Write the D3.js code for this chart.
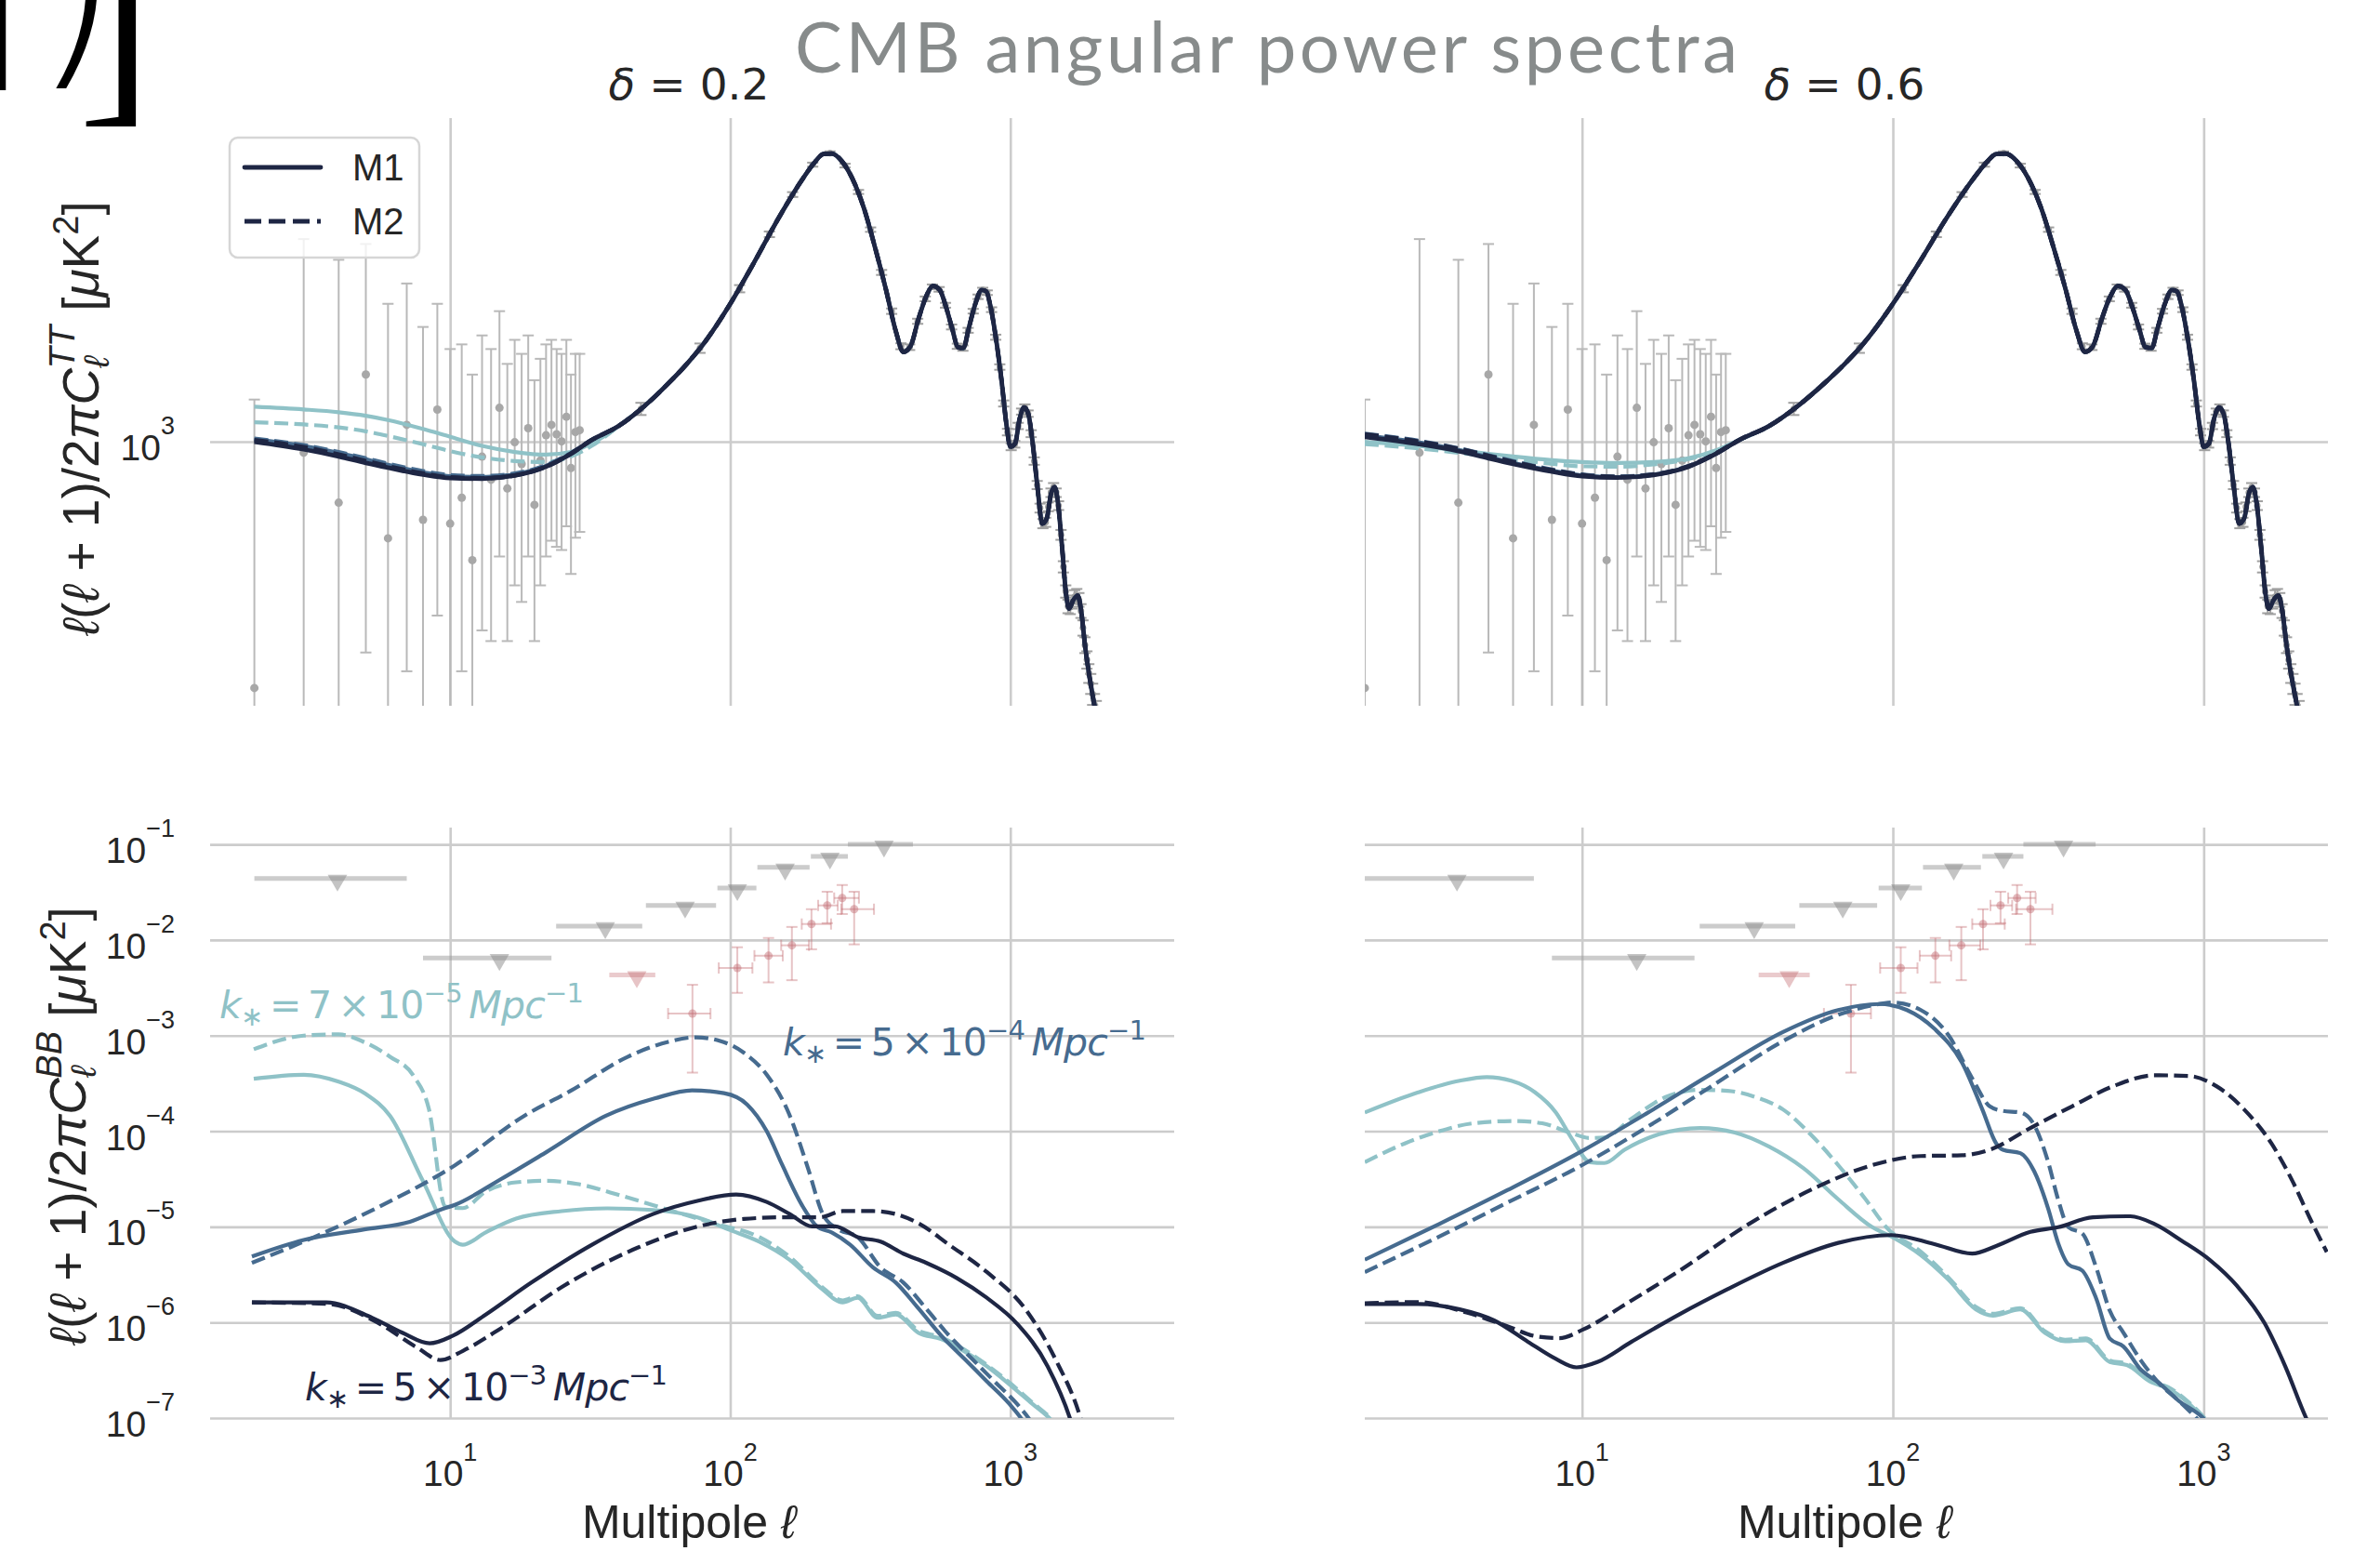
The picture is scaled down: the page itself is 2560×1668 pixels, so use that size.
<!DOCTYPE html>
<html><head><meta charset="utf-8">
<script src="https://cdn.jsdelivr.net/npm/d3@7"></script>
<style>body{margin:0;background:#fff}svg{display:block}</style>
</head><body>
<svg id="c" width="2560" height="1668"></svg>
<script>
// ---------------- DATA ----------------
const ellTicks = [10, 100, 1000];
const ttTicks = [1000];
const bbTicks = [1e-7, 1e-6, 1e-5, 1e-4, 1e-3, 1e-2, 1e-1];
const ellTickExp = ["1", "2", "3"];
const bbTickExp = ["\u22127","\u22126","\u22125","\u22124","\u22123","\u22122","\u22121"];
const legendLabels = ["M1", "M2"];
const panelTitles = ["\u03b4 = 0.2", "\u03b4 = 0.6"];

// TT theory (common part, l >= 40)
const ttBase = [[40,1100],[50,1250],[60,1420],[70,1600],[80,1800],[100,2300],[120,2900],[150,3900],[180,4850],[200,5400],[215,5680],[230,5700],[250,5450],[280,4700],[300,4100],[330,3200],[360,2500],[390,1950],[415,1720],[440,1780],[470,2100],[500,2400],[530,2560],[560,2500],[590,2250],[620,1980],[650,1770],[680,1760],[710,1980],[750,2300],[790,2500],[820,2480],[850,2260],[890,1850],[930,1450],[970,1100],[1000,970],[1040,990],[1080,1150],[1120,1230],[1160,1180],[1200,1000],[1250,760],[1300,610],[1350,630],[1400,735],[1440,760],[1480,690],[1530,530],[1580,400],[1620,365],[1680,385],[1740,395],[1790,360],[1850,290],[1920,240],[2000,202],[2100,172],[2300,128],[2500,95]];
// TT low-l parts, delta = 0.2
const ttNavySolidL = [[2,1000],[3,955],[4,915],[5,880],[6,855],[8,820],[10,803],[13,800],[17,815],[22,860],[27,930],[32,1010]];
const ttNavyDashL  = [[2,1010],[3,968],[4,925],[5,890],[6,862],[8,826],[10,806],[13,802],[17,816],[22,860],[27,930],[32,1010]];
const ttMidSolidL  = [[2,1015],[3,975],[4,935],[5,900],[6,870],[8,832],[10,812],[13,808],[17,822],[22,865],[27,932],[32,1010]];
const ttMidDashL   = [[2,1020],[3,980],[4,940],[5,905],[6,876],[8,838],[10,818],[13,813],[17,826],[22,868],[27,935],[32,1012]];
const ttTealSolidL = [[2,1235],[3,1215],[4,1195],[5,1170],[6,1140],[8,1080],[10,1030],[13,975],[17,940],[22,925],[27,940],[32,990],[36,1040]];
const ttTealDashL  = [[2,1125],[3,1110],[4,1090],[5,1065],[6,1035],[8,985],[10,945],[13,910],[17,890],[22,885],[27,915],[32,975],[36,1035]];
// TT low-l parts, delta = 0.6
const ttNavySolidR = [[2,1030],[3,985],[4,945],[5,905],[6,875],[8,835],[10,812],[13,805],[17,818],[22,860],[27,930],[32,1010]];
const ttNavyDashR  = [[2,1045],[3,1000],[4,958],[5,918],[6,885],[8,842],[10,818],[13,808],[17,820],[22,862],[27,932],[32,1010]];
const ttMidSolidR  = [[2,1040],[3,995],[4,952],[5,912],[6,880],[8,840],[10,816],[13,808],[17,820],[22,862],[27,931],[32,1010]];
const ttMidDashR   = [[2,1050],[3,1005],[4,962],[5,922],[6,890],[8,846],[10,821],[13,811],[17,822],[22,864],[27,933],[32,1011]];
const ttTealSolidR = [[2,1000],[3,975],[4,950],[5,930],[6,915],[8,895],[10,885],[13,880],[17,885],[22,905],[27,950],[32,1010]];
const ttTealDashR  = [[2,985],[3,960],[4,935],[5,915],[6,898],[8,875],[10,862],[13,860],[17,872],[22,900],[27,948],[32,1010]];

// Planck TT low-l points
const ttLowEll = [2,3,4,5,6,7,8,9,10,11,12,13,14,15,16,17,18,19,20,21,22,23,24,25,26,27,28,29];
const ttLowVal = [226,936,692,1501,558,1107,624,1214,610,713,489,914,795,1227,754,997,874,1085,683,893,1040,1107,1046,1002,1163,853,1060,1072];
const ttLowHi  = [1290,3400,3000,3300,2300,2600,2000,2300,1750,1800,1500,1900,1750,2200,1600,1850,1700,1900,1450,1650,1800,1850,1750,1700,1850,1500,1700,1700];
const ttLowLo  = [150,150,150,280,150,250,150,350,200,250,150,320,300,500,300,420,380,500,300,420,500,550,530,520,600,450,560,580];
// Planck TT binned points
const ttBinEll = [48,78,108,138,167,197,227,257,287,317,347,377,407,437,467,497,527,557,587,617,647,677,707,737,767,797,827,857,887,917,947,977,1007,1037,1067,1097,1127,1157,1187,1217,1247,1277,1307,1337,1367,1397,1427,1457,1487,1517,1547,1577,1607,1637,1667,1697,1727,1757,1787,1817,1847,1877,1907,1937,1967,1997,2027,2057,2087];
const ttBinVal = [1220,1760,2520,3500,4450,5330,5710,5300,4520,3600,2780,2200,1780,1770,2070,2370,2550,2510,2280,2000,1780,1760,1960,2200,2400,2500,2460,2220,1880,1570,1260,1060,970,985,1100,1200,1230,1185,1050,890,770,670,610,615,675,735,760,735,680,570,470,405,370,368,380,392,395,385,360,325,293,268,247,232,218,204,195,186,178];
const ttBinErr = [45,50,55,60,65,65,65,60,55,48,42,36,32,30,32,34,35,35,33,30,28,28,29,31,33,34,34,32,29,26,23,21,20,20,21,22,23,23,22,20,19,18,17,17,18,19,19,19,18,17,16,15,15,15,15,16,16,16,15,15,14,14,14,14,14,14,14,14,14];

// BB curves, delta = 0.2
const bbTealSolidL = [[1.99,3.54e-4],[3.0,3.9e-4],[4.0,3.3e-4],[5.0,2.45e-4],[6.1,1.45e-4],[8.0,3.0e-5],[10.4,7.0e-6],[11.1,6.5e-6],[13.4,8.75e-6],[17.2,1.22e-5],[25,1.46e-5],[36.4,1.56e-5],[53,1.5e-5],[76.9,1.25e-5],[98.9,9.35e-6],[127,7.0e-6],[163,4.52e-6],[209,2.34e-6],[252,1.62e-6],[285,1.81e-6],[336,1.12e-6],[390,1.21e-6],[470,7.8e-7],[566,6.7e-7],[684,5.0e-7],[824,3.48e-7],[993,2.25e-7],[1200,1.4e-7],[1393,9.7e-8],[1585,6.3e-8]];
const bbTealDashL  = [[1.99,7.2e-4],[3.0,1.0e-3],[4.0,1.03e-3],[5.0,8.4e-4],[6.1,6.0e-4],[7.4,3.8e-4],[8.4,1.7e-4],[9.6,1.63e-5],[11.1,1.57e-5],[13.4,2.34e-5],[17.2,2.92e-5],[22.1,3.03e-5],[28.4,2.81e-5],[41.2,2.1e-5],[60,1.51e-5],[87,1.09e-5],[127,7.8e-6],[163,4.86e-6],[209,2.45e-6],[252,1.7e-6],[285,1.88e-6],[336,1.17e-6],[390,1.26e-6],[470,8.2e-7],[566,7.0e-7],[684,5.2e-7],[824,3.6e-7],[993,2.35e-7],[1200,1.45e-7],[1393,1.0e-7],[1585,6.5e-8]];
const bbMidSolidL  = [[1.96,4.9e-6],[3.0,7.3e-6],[4.94,9.4e-6],[7.18,1.13e-5],[9.23,1.51e-5],[10.4,1.7e-5],[15.2,3.16e-5],[22.1,6.07e-5],[36,1.45e-4],[53.7,2.2e-4],[73,2.68e-4],[95,2.5e-4],[115,1.9e-4],[135,1.0e-4],[153,4.5e-5],[180,1.7e-5],[204,1.01e-5],[231,8.7e-6],[268,6.5e-6],[323,3.77e-6],[390,2.61e-6],[470,1.4e-6],[566,7.3e-7],[684,4.19e-7],[824,2.42e-7],[993,1.4e-7],[1099,9.7e-8],[1200,6.3e-8]];
const bbMidDashL   = [[1.96,4.2e-6],[3.0,7.0e-6],[5.6,1.63e-5],[10.4,4.4e-5],[18.4,1.45e-4],[26.9,2.64e-4],[43,6.0e-4],[60,8.6e-4],[75,9.6e-4],[92,8.8e-4],[112,6.6e-4],[135,3.9e-4],[162.5,1.5e-4],[189,4.2e-5],[214,1.36e-5],[243,9.4e-6],[285,7.8e-6],[344,3.77e-6],[415,2.61e-6],[500,1.4e-6],[604,7.3e-7],[728,4.19e-7],[877,2.42e-7],[1057,1.4e-7],[1170,9.7e-8],[1280,6.3e-8]];
const bbNavySolidL = [[1.96,1.62e-6],[3.61,1.62e-6],[5.26,1.12e-6],[6.75,7.8e-7],[8.45,6.04e-7],[10.2,7.24e-7],[13.4,1.21e-6],[19.5,2.61e-6],[32.1,6.5e-6],[53,1.36e-5],[76.9,1.88e-5],[105,2.18e-5],[135,1.82e-5],[163,1.36e-5],[196,1.01e-5],[237,1.01e-5],[285,7.8e-6],[344,7.0e-6],[415,5.24e-6],[500,4.21e-6],[643,2.92e-6],[824,1.81e-6],[1057,9.7e-7],[1358,3.49e-7],[1637,9.7e-8],[1750,5e-8]];
const bbNavyDashL  = [[1.96,1.62e-6],[3.61,1.57e-6],[5.6,9.7e-7],[7.64,5.42e-7],[9.23,4.04e-7],[11.1,5.04e-7],[15.2,8.7e-7],[25,2.34e-6],[46.7,6.05e-6],[76.9,1.01e-5],[112,1.21e-5],[163,1.26e-5],[209,1.26e-5],[252,1.46e-5],[323,1.46e-5],[390,1.36e-5],[470,1.09e-5],[604,6.5e-6],[824,3.37e-6],[1127,1.4e-6],[1445,4.19e-7],[1786,9.7e-8],[1900,5e-8]];
// BB curves, delta = 0.6
const bbTealSolidR = [[2,1.57e-4],[2.97,2.55e-4],[4.04,3.37e-4],[4.94,3.68e-4],[5.92,3.37e-4],[7.06,2.55e-4],[8.24,1.57e-4],[9.35,8.0e-5],[10.6,4.75e-5],[11.8,4.65e-5],[13.7,6.4e-5],[17.7,9.3e-5],[24,1.08e-4],[31,9.7e-5],[40,6.9e-5],[51.6,4.1e-5],[66.7,1.94e-5],[85.9,9.9e-6],[99,7.9e-6],[123,5.06e-6],[151,2.79e-6],[185,1.37e-6],[210,1.18e-6],[257,1.37e-6],[308,7.8e-7],[358,6.35e-7],[418,6.5e-7],[499,3.85e-7],[566,3.58e-7],[678,2.37e-7],[769,2.04e-7],[897,1.41e-7],[993,1.01e-7],[1120,6.3e-8]];
const bbTealDashR  = [[2,4.75e-5],[2.69,7.45e-5],[3.47,1.0e-4],[4.47,1.21e-4],[6.07,1.28e-4],[7.45,1.21e-4],[9.12,9.7e-5],[10.6,8.5e-5],[11.8,8.6e-5],[14.4,1.35e-4],[18.6,2.28e-4],[24,2.71e-4],[29.4,2.65e-4],[36.1,2.28e-4],[44.3,1.69e-4],[54.3,9.3e-5],[66.7,4.42e-5],[81.7,1.94e-5],[95.3,9.9e-6],[123,5.5e-6],[151,2.95e-6],[185,1.45e-6],[210,1.23e-6],[257,1.41e-6],[308,8.1e-7],[358,6.6e-7],[418,6.8e-7],[499,4.0e-7],[566,3.7e-7],[678,2.45e-7],[769,2.1e-7],[897,1.45e-7],[993,1.05e-7],[1120,6.3e-8]];
const bbMidSolidR  = [[2,4.53e-6],[3.47,1.07e-5],[5.77,2.43e-5],[10,6.2e-5],[16,1.51e-4],[26.6,4.14e-4],[44.3,1.09e-3],[66.7,1.85e-3],[90.4,2.14e-3],[111,1.85e-3],[136,1.18e-3],[167,5.2e-4],[194,1.69e-4],[215,7.45e-5],[226,6.4e-5],[257,5.9e-5],[285,3.8e-5],[316,1.55e-5],[340,6.8e-6],[367,4.05e-6],[407,3.48e-6],[451,1.78e-6],[499,6.75e-7],[552,5.6e-7],[628,3.2e-7],[713,2.37e-7],[832,1.51e-7],[993,1.01e-7],[1120,6.3e-8]];
const bbMidDashR   = [[2,3.36e-6],[3.47,7.9e-6],[5.77,1.8e-5],[10,4.42e-5],[16,1.08e-4],[26.6,3.08e-4],[44.3,8.75e-4],[66.7,1.65e-3],[85.9,2.07e-3],[100,2.22e-3],[123,1.85e-3],[151,1.01e-3],[180,3.57e-4],[205,1.82e-4],[226,1.63e-4],[257,1.57e-4],[285,1.16e-4],[316,4.75e-5],[340,1.94e-5],[367,9.9e-6],[407,8.5e-6],[451,3.75e-6],[499,1.32e-6],[552,7.8e-7],[628,4.0e-7],[713,2.37e-7],[832,1.51e-7],[944,1.01e-7],[1070,6.3e-8]];
const bbNavySolidR = [[2,1.56e-6],[2.97,1.56e-6],[4.04,1.37e-6],[5.21,1.05e-6],[6.71,6.25e-7],[8.24,4.15e-7],[9.6,3.39e-7],[11.2,3.85e-7],[14.4,6.25e-7],[20.6,1.22e-6],[29.4,2.23e-6],[44.3,4.2e-6],[66.7,6.8e-6],[99,8.2e-6],[136,6.6e-6],[180,5.25e-6],[215,6.3e-6],[277,8.85e-6],[340,9.9e-6],[440,1.26e-5],[581,1.29e-5],[695,1.07e-5],[853,7.1e-6],[1045,4.52e-6],[1282,2.4e-6],[1570,9.8e-7],[1832,3.44e-7],[2133,1.01e-7],[2290,6.3e-8]];
const bbNavyDashR  = [[2,1.59e-6],[2.97,1.63e-6],[4.25,1.27e-6],[5.77,9.1e-7],[7.06,7.2e-7],[8.45,6.85e-7],[10.1,8.45e-7],[13.7,1.53e-6],[20.6,3.48e-6],[34.4,1.07e-5],[57.1,2.62e-5],[85.9,4.42e-5],[123,5.5e-5],[167,5.6e-5],[205,6.4e-5],[277,1.08e-4],[377,1.82e-4],[512,2.96e-4],[695,3.85e-4],[897,3.78e-4],[1099,2.96e-4],[1349,1.69e-4],[1652,7.45e-5],[1928,3.03e-5],[2193,1.24e-5],[2489,5.45e-6]];

// BB data: upper limits (grey), BICEP-like (red)
const bbUpEll = [3.96, 15, 35.8, 69, 106, 157, 227, 354];
const bbUpLo  = [2.0, 8, 23.9, 50, 90, 125, 194, 263];
const bbUpHi  = [7.0, 23, 48.5, 89, 124, 192, 263, 449];
const bbUpVal = [0.044, 0.0065, 0.014, 0.023, 0.035, 0.0575, 0.075, 0.10];
const pkUpEll = [46.4], pkUpLo = [37], pkUpHi = [54], pkUpVal = [0.0043];
const pkEll   = [73.3, 106, 137, 166, 195, 222, 251, 277];
const pkEllLo = [60, 91, 122, 152, 180, 206, 235, 249];
const pkEllHi = [85, 120, 154, 191, 229, 242, 288, 326];
const pkVal   = [0.0017, 0.0051, 0.00685, 0.0088, 0.0147, 0.023, 0.0275, 0.021];
const pkLo    = [0.00041, 0.0028, 0.0036, 0.0038, 0.008, 0.015, 0.0187, 0.009];
const pkHi    = [0.0034, 0.0084, 0.0105, 0.0137, 0.021, 0.032, 0.0376, 0.032];

// ---------------- STYLE / LAYOUT ----------------
const C_NAVY = "#1e2644", C_MID = "#466b8f", C_TEAL = "#8fc2c7";
const GRID = "#cccccc", TXT = "#262626";
const DASH = "15,6.5";
const SANS = "Liberation Sans, Arial, sans-serif";
const MATH = "DejaVu Sans, sans-serif";
const svg = d3.select("#c");

const xL = d3.scaleLog().domain([1.39, 3846]).range([226, 1263]);
const xR = d3.scaleLog().domain([2, 2510]).range([1468, 2504]);
const yT = d3.scaleLog().domain([203, 7060]).range([759, 127]);
const yB = d3.scaleLog().domain([1e-7, 0.15]).range([1525, 890]);

const panels = [
  {id:"tl", x:xL, y:yT, yt:ttTicks, tt:true},
  {id:"tr", x:xR, y:yT, yt:ttTicks, tt:true},
  {id:"bl", x:xL, y:yB, yt:bbTicks, tt:false},
  {id:"br", x:xR, y:yB, yt:bbTicks, tt:false}
];

const defs = svg.append("defs");
panels.forEach(p => {
  const [x0,x1] = p.x.range(), [y1,y0] = p.y.range();
  defs.append("clipPath").attr("id","clip-"+p.id).append("rect")
    .attr("x",x0).attr("y",y0).attr("width",x1-x0).attr("height",y1-y0);
});

// grids
panels.forEach(p => {
  const [x0,x1] = p.x.range(), [y1,y0] = p.y.range();
  const g = svg.append("g");
  const gx = g.append("g").attr("transform",`translate(0,${y1})`)
    .call(d3.axisBottom(p.x).tickValues(ellTicks).tickSize(-(y1-y0)).tickFormat(""));
  const gy = g.append("g").attr("transform",`translate(${x0},0)`)
    .call(d3.axisLeft(p.y).tickValues(p.yt).tickSize(-(x1-x0)).tickFormat(""));
  [gx,gy].forEach(a => { a.select(".domain").remove(); a.selectAll("line").attr("stroke",GRID).attr("stroke-width",2.6); });
});

// tick labels
function supText(sel, base, exp, baseSize, supSize, supDy){
  sel.append("tspan").attr("font-size",baseSize).text(base);
  sel.append("tspan").attr("font-size",supSize).attr("dy",supDy).text(exp);
}
panels.filter(p=>!p.tt).forEach(p => {
  ellTicks.forEach((t,i) => {
    const tx = svg.append("text").attr("x",p.x(t)).attr("y",p.y.range()[0]+73)
      .attr("text-anchor","middle").attr("fill",TXT).attr("font-family",SANS);
    supText(tx,"10",ellTickExp[i],39,27,-27);
  });
});
const pTL = panels[0], pBL = panels[2];
ttTicks.forEach(t => {
  const tx = svg.append("text").attr("x",188).attr("y",pTL.y(t)+20).attr("text-anchor","end")
    .attr("fill",TXT).attr("font-family",SANS);
  supText(tx,"10","3",39,27,-28);
});
bbTicks.forEach((t,i) => {
  const tx = svg.append("text").attr("x",188).attr("y",pBL.y(t)+20).attr("text-anchor","end")
    .attr("fill",TXT).attr("font-family",SANS);
  supText(tx,"10",bbTickExp[i],39,27,-28);
});

// ---------- TT data points ----------
function drawTTData(p){
  const g = svg.append("g").attr("clip-path",`url(#clip-${p.id})`);
  const cap = 6;
  ttLowEll.forEach((l,i) => {
    const x = p.x(l);
    g.append("line").attr("x1",x).attr("x2",x).attr("y1",p.y(ttLowLo[i])).attr("y2",p.y(ttLowHi[i]))
      .attr("stroke","#b9b9b9").attr("stroke-width",2);
    [ttLowLo[i],ttLowHi[i]].forEach(v => g.append("line").attr("x1",x-cap).attr("x2",x+cap)
      .attr("y1",p.y(v)).attr("y2",p.y(v)).attr("stroke","#b9b9b9").attr("stroke-width",2));
    g.append("circle").attr("cx",x).attr("cy",p.y(ttLowVal[i])).attr("r",4.5).attr("fill","#a8a8a8");
  });
  ttBinEll.forEach((l,i) => {
    const x = p.x(l), lo = ttBinVal[i]-ttBinErr[i], hi = ttBinVal[i]+ttBinErr[i];
    g.append("line").attr("x1",x).attr("x2",x).attr("y1",p.y(lo)).attr("y2",p.y(hi))
      .attr("stroke","#a0a0a0").attr("stroke-width",2);
    [lo,hi].forEach(v => g.append("line").attr("x1",x-cap).attr("x2",x+cap)
      .attr("y1",p.y(v)).attr("y2",p.y(v)).attr("stroke","#a0a0a0").attr("stroke-width",2));
    g.append("circle").attr("cx",x).attr("cy",p.y(ttBinVal[i])).attr("r",3.5).attr("fill","#999");
  });
}
drawTTData(panels[0]); drawTTData(panels[1]);

// ---------- BB data ----------
function drawBBData(p){
  const g = svg.append("g").attr("clip-path",`url(#clip-${p.id})`);
  const tri = d3.symbol().type(d3.symbolTriangle).size(190);
  bbUpEll.forEach((l,i) => {
    g.append("line").attr("x1",p.x(bbUpLo[i])).attr("x2",p.x(bbUpHi[i]))
      .attr("y1",p.y(bbUpVal[i])).attr("y2",p.y(bbUpVal[i]))
      .attr("stroke","#9a9a9a").attr("stroke-opacity",0.5).attr("stroke-width",5);
    g.append("path").attr("d",tri()).attr("fill","#8a8a8a").attr("fill-opacity",0.5)
      .attr("transform",`translate(${p.x(l)},${p.y(bbUpVal[i])+2}) rotate(180)`);
  });
  const pc = "#c26b70";
  pkUpEll.forEach((l,i) => {
    g.append("line").attr("x1",p.x(pkUpLo[i])).attr("x2",p.x(pkUpHi[i]))
      .attr("y1",p.y(pkUpVal[i])).attr("y2",p.y(pkUpVal[i]))
      .attr("stroke",pc).attr("stroke-opacity",0.35).attr("stroke-width",5);
    g.append("path").attr("d",tri()).attr("fill",pc).attr("fill-opacity",0.4)
      .attr("transform",`translate(${p.x(l)},${p.y(pkUpVal[i])+2}) rotate(180)`);
  });
  pkEll.forEach((l,i) => {
    const x = p.x(l), y = p.y(pkVal[i]);
    const st = s => s.attr("stroke",pc).attr("stroke-opacity",0.4).attr("stroke-width",2);
    st(g.append("line").attr("x1",x).attr("x2",x).attr("y1",p.y(pkLo[i])).attr("y2",p.y(pkHi[i])));
    st(g.append("line").attr("x1",p.x(pkEllLo[i])).attr("x2",p.x(pkEllHi[i])).attr("y1",y).attr("y2",y));
    [pkLo[i],pkHi[i]].forEach(v => st(g.append("line").attr("x1",x-6).attr("x2",x+6).attr("y1",p.y(v)).attr("y2",p.y(v))));
    [pkEllLo[i],pkEllHi[i]].forEach(v => st(g.append("line").attr("x1",p.x(v)).attr("x2",p.x(v)).attr("y1",y-6).attr("y2",y+6)));
    g.append("circle").attr("cx",x).attr("cy",y).attr("r",4.5).attr("fill",pc).attr("fill-opacity",0.45);
  });
}
drawBBData(panels[2]); drawBBData(panels[3]);

// ---------- curves ----------
function curve(p, data, color, dashed, width){
  const line = d3.line().x(d=>p.x(d[0])).y(d=>p.y(d[1])).curve(d3.curveMonotoneX);
  svg.append("path").attr("clip-path",`url(#clip-${p.id})`).datum(data).attr("d",line)
    .attr("fill","none").attr("stroke",color).attr("stroke-width",width||4.2)
    .attr("stroke-dasharray",dashed?DASH:null).attr("stroke-linejoin","round");
}
[[panels[0],[ttTealSolidL,ttTealDashL,ttMidSolidL,ttMidDashL,ttNavySolidL,ttNavyDashL]],
 [panels[1],[ttTealSolidR,ttTealDashR,ttMidSolidR,ttMidDashR,ttNavySolidR,ttNavyDashR]]].forEach(([p,arr]) => {
  const cols = [C_TEAL,C_TEAL,C_MID,C_MID,C_NAVY,C_NAVY];
  arr.forEach((low,i) => curve(p, low.concat(ttBase.filter(d=>d[0]>low[low.length-1][0])), cols[i], i%2===1, i>=4?4.8:4.2));
});
[[panels[2],[bbTealSolidL,bbTealDashL,bbMidSolidL,bbMidDashL,bbNavySolidL,bbNavyDashL]],
 [panels[3],[bbTealSolidR,bbTealDashR,bbMidSolidR,bbMidDashR,bbNavySolidR,bbNavyDashR]]].forEach(([p,arr]) => {
  const cols = [C_TEAL,C_TEAL,C_MID,C_MID,C_NAVY,C_NAVY];
  arr.forEach((d,i) => curve(p, d, cols[i], i%2===1, 4.2));
});

// ---------- legend ----------
svg.append("rect").attr("x",247).attr("y",148).attr("width",204).attr("height",129).attr("rx",9)
  .attr("fill","#fff").attr("fill-opacity",0.8).attr("stroke","#d6d6d6").attr("stroke-width",2.5);
[180,238].forEach((yy,i) => {
  svg.append("line").attr("x1",263).attr("x2",345).attr("y1",yy).attr("y2",yy)
    .attr("stroke",C_NAVY).attr("stroke-width",4.8).attr("stroke-linecap",i?"butt":"round")
    .attr("stroke-dasharray",i?"18,8":null);
  svg.append("text").attr("x",379).attr("y",yy+14).attr("font-size",40).attr("fill",TXT)
    .attr("font-family",SANS).text(legendLabels[i]);
});

// ---------- titles & labels ----------
svg.append("text").attr("x",1362).attr("y",78).attr("text-anchor","middle").attr("font-size",76)
  .attr("textLength",1014).attr("lengthAdjust","spacing")
  .attr("fill","#878b8b").attr("font-family","Lato, 'Noto Sans', sans-serif").text("CMB angular power spectra");
[[741,0],[1984,1]].forEach(([cx,i]) => {
  const t = svg.append("text").attr("x",cx).attr("y",107).attr("text-anchor","middle").attr("font-size",47)
    .attr("fill",TXT).attr("font-family",MATH);
  t.append("tspan").attr("font-style","italic").text("\u03b4");
  t.append("tspan").text(panelTitles[i].slice(1));
});
[741,1984].forEach(cx => {
  const t = svg.append("text").attr("x",cx).attr("y",1654).attr("text-anchor","middle").attr("font-size",50)
    .attr("fill",TXT).attr("font-family",SANS);
  t.append("tspan").text("Multipole ");
  t.append("tspan").attr("font-style","italic").text("\u2113");
});
function yLabel(bx, cy, sup){
  const t = svg.append("text").attr("transform",`translate(${bx},${cy}) rotate(-90)`).attr("text-anchor","middle")
    .attr("font-size",55).attr("fill",TXT).attr("font-family",SANS);
  t.append("tspan").attr("font-style","italic").text("\u2113");
  t.append("tspan").text("(");
  t.append("tspan").attr("font-style","italic").text("\u2113");
  t.append("tspan").text(" + 1)/2");
  t.append("tspan").attr("font-style","italic").text("\u03c0C");
  t.append("tspan").attr("font-size",38).attr("font-style","italic").attr("dy",11).text("\u2113");
  t.append("tspan").attr("font-size",38).attr("font-style","italic").attr("dx",-13).attr("dy",-37).text(sup);
  t.append("tspan").attr("dy",26).text(" [");
  t.append("tspan").attr("font-style","italic").text("\u03bc");
  t.append("tspan").text("K");
  t.append("tspan").attr("font-size",38).attr("dy",-22).text("2");
  t.append("tspan").attr("dy",22).text("]");
}
yLabel(106, 450, "TT");
yLabel(92, 1211, "BB");

function kLabel(x, y, color, mant, exp, len){
  const t = svg.append("text").attr("x",x).attr("y",y).attr("font-size",41).attr("fill",color)
    .attr("font-family",MATH).attr("textLength",len).attr("lengthAdjust","spacing");
  t.append("tspan").attr("font-style","italic").text("k");
  t.append("tspan").attr("font-size",29).attr("dy",8).text("\u2217");
  t.append("tspan").attr("dy",-8).text("\u2009=\u2009" + mant + "\u2009\u00d7\u200910");
  t.append("tspan").attr("font-size",29).attr("dy",-17).text("\u2212" + exp);
  t.append("tspan").attr("dy",17).attr("font-style","italic").text("\u2009Mpc");
  t.append("tspan").attr("font-size",29).attr("dy",-17).text("\u22121");
}
kLabel(236, 1095, C_TEAL, "7", "5", 392);
kLabel(842, 1135, C_MID, "5", "4", 391);
kLabel(328, 1506, C_NAVY, "5", "3", 390);

// stray glyphs at the top-left corner (remnant of a cropped formula)
svg.append("text").attr("x",-15).attr("y",60).attr("font-size",170).attr("fill","#000")
  .attr("font-family","Liberation Serif, serif").text("|");
svg.append("text").attr("x",33).attr("y",62).attr("font-size",250).attr("fill","#000")
  .attr("font-family","DejaVu Sans, sans-serif").attr("font-weight",200).text(")");
svg.append("text").attr("x",84).attr("y",104).attr("font-size",240).attr("fill","#000")
  .attr("font-family","Liberation Serif, serif").text("]");
</script>
</body></html>
